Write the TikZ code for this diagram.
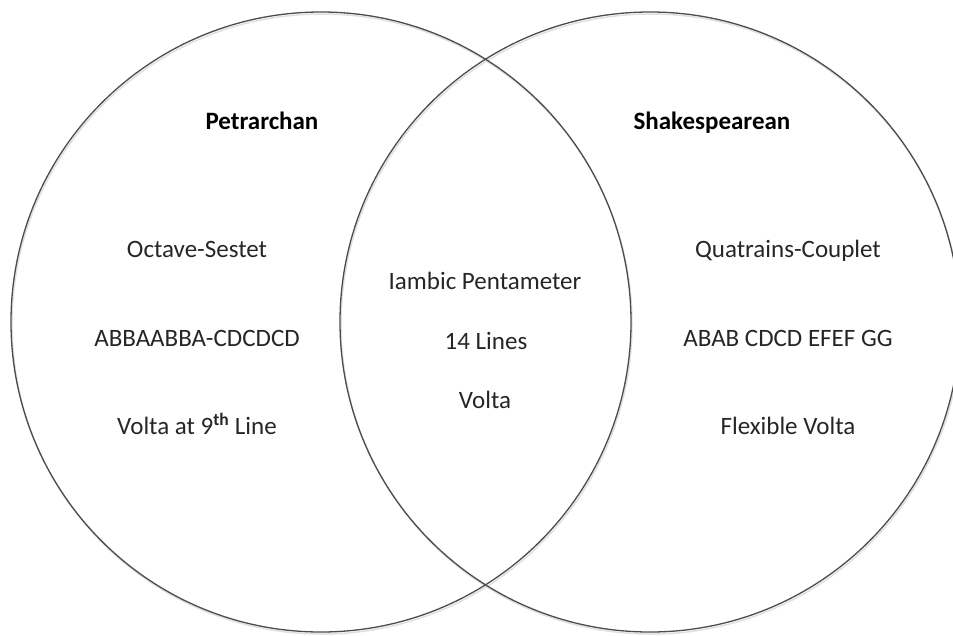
\documentclass[tikz,border=0pt]{standalone}
\usepackage{fontspec}
\setmainfont{Carlito}
\begin{document}
\begin{tikzpicture}[x=1pt,y=-1pt,
  ring/.style={draw=black!70, line width=1.3pt},
  shade/.style={draw=black!12, line width=1.5pt},
  lbl/.style={font=\fontsize{25}{29}\selectfont, text=black!85, inner sep=0pt, text height=17pt, text depth=0pt},
  ttl/.style={font=\fontsize{25}{29}\selectfont\bfseries, text=black, inner sep=0pt, text height=17pt, text depth=0pt}]
\useasboundingbox (0,0) rectangle (953,635);
\begin{scope}
\clip (0,0) rectangle (953,635);
\draw[shade] (322,324) circle (310);
\draw[shade] (651,324) circle (310);
\draw[ring] (321,322) circle (310);
\draw[ring] (650,322) circle (310);
\end{scope}
\node[ttl] (pet) at (262,121) {Petrarchan};
\node[ttl] (sha) at (712,121) {Shakespearean};
\node[lbl] (os) at (197,249) {Octave-Sestet};
\node[lbl] (ab1) at (197,338) {ABBAABBA-CDCDCD};
\node[lbl] (v9) at (197,426) {Volta at 9\textsuperscript{\bfseries th} Line};
\node[lbl] (ip) at (485,281) {Iambic Pentameter};
\node[lbl] (fl) at (486,341) {14 Lines};
\node[lbl] (vo) at (485,400) {Volta};
\node[lbl] (qc) at (788,249) {Quatrains-Couplet};
\node[lbl] (ab2) at (788,338) {ABAB CDCD EFEF GG};
\node[lbl] (fv) at (788,426) {Flexible Volta};
\end{tikzpicture}
\end{document}
